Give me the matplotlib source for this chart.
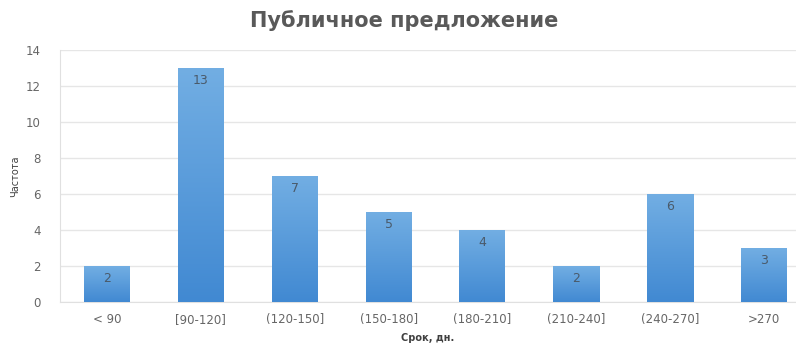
import numpy as np
import matplotlib.pyplot as plt
from matplotlib.colors import LinearSegmentedColormap

# Распределение сроков публичного предложения
categories = ['< 90', '[90-120]', '(120-150]', '(150-180]', '(180-210]',
              '(210-240]', '(240-270]', '>270']
counts = [2, 13, 7, 5, 4, 2, 6, 3]

fig = plt.figure(figsize=(7.96, 3.44), dpi=100)
ax = fig.add_axes([60 / 796, 42 / 344, 1 - 60 / 796, (302 - 50) / 344])

x = np.arange(len(categories))
width = 0.49
bars = ax.bar(x, counts, width=width, color='#5b9bd5', zorder=2)

# gradient fill for each bar
cmap = LinearSegmentedColormap.from_list('blu', ['#4189d2', '#72aee3'])
grad = np.linspace(0, 1, 256).reshape(-1, 1)
for b in bars:
    x0, h = b.get_x(), b.get_height()
    ax.imshow(grad, cmap=cmap, aspect='auto', origin='lower',
              extent=[x0, x0 + b.get_width(), 0, h], zorder=3)
    b.set_alpha(0)

for xi, c in zip(x, counts):
    ax.text(xi, c - 0.35, str(c), ha='center', va='top', fontsize=9,
            color='#4a5a6a', zorder=4)

ax.set_xlim(-0.5, 7.34)
ax.set_ylim(0, 14)
ax.set_yticks(range(0, 15, 2))
ax.set_xticks(x)
ax.set_xticklabels(categories)
ax.tick_params(axis='both', length=0, labelsize=8.5, colors='#666666')
ax.tick_params(axis='x', pad=8)
ax.tick_params(axis='y', pad=14)
ax.grid(axis='y', color='#e6e6e6', linewidth=1, zorder=0)
for s in ['top', 'right']:
    ax.spines[s].set_visible(False)
ax.spines['left'].set_color('#e0e0e0')
ax.spines['bottom'].set_color('#e0e0e0')

ax.set_ylabel('Частота', fontsize=7, color='#404040', labelpad=4)
ax.set_xlabel('Срок, дн.', fontsize=7, fontweight='bold', color='#404040',
              labelpad=5)

fig.text(0.508, 0.94, 'Публичное предложение', ha='center', va='center',
         fontsize=15, fontweight='bold', color='#595959')

fig.savefig('out.png', dpi=100)
